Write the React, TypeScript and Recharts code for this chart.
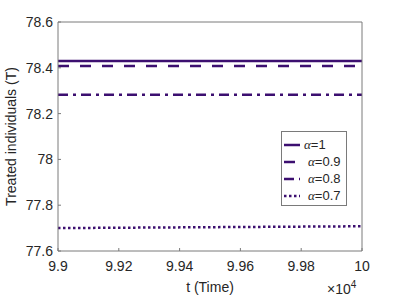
import { Label, Line, LineChart, XAxis, YAxis } from "recharts";

// Treated individuals T(t) near steady state for four fractional orders.
const times = [9.9, 9.925, 9.95, 9.975, 10];
const alpha1 = [78.43, 78.43, 78.43, 78.43, 78.43];
const alpha09 = [78.408, 78.408, 78.408, 78.408, 78.408];
const alpha08 = [78.282, 78.282, 78.282, 78.282, 78.282];
const alpha07 = [77.7, 77.702, 77.704, 77.706, 77.708];

const xTicks = [9.9, 9.92, 9.94, 9.96, 9.98, 10];
const yTicks = [77.6, 77.8, 78, 78.2, 78.4, 78.6];

const purple = "#3c0f70";
const axisGray = "#7a7a7a";
const font = "'Liberation Sans', Arial, sans-serif";

const series = [
  { key: "a1", label: "1", dash: undefined as string | undefined },
  { key: "a09", label: "0.9", dash: "11 11" },
  { key: "a08", label: "0.8", dash: "10 5 3 5" },
  { key: "a07", label: "0.7", dash: "2.5 2.5" },
];

const data = times.map((t, i) => ({
  t,
  a1: alpha1[i],
  a09: alpha09[i],
  a08: alpha08[i],
  a07: alpha07[i],
}));

function LegendBox() {
  return (
    <div
      style={{
        position: "absolute",
        left: 281,
        top: 131,
        width: 66,
        height: 75,
        boxSizing: "border-box",
        border: `1px solid ${axisGray}`,
        background: "#fff",
        padding: "4px 0 0 2px",
        fontFamily: font,
        fontSize: 13,
        color: "#262626",
      }}
    >
      {series.map((s) => (
        <div key={s.key} style={{ display: "flex", alignItems: "center", height: 17 }}>
          <svg width={18} height={6} style={{ marginRight: 2 }}>
            <line x1={0} y1={3} x2={16} y2={3} stroke={purple} strokeWidth={2.5} strokeDasharray={s.dash} />
          </svg>
          <span style={{ marginLeft: s.label === "1" ? 0 : 4 }}>
            <span style={{ fontFamily: "'Liberation Serif', serif", fontStyle: "italic" }}>α</span>={s.label}
          </span>
        </div>
      ))}
    </div>
  );
}

export default function App() {
  return (
    <div style={{ position: "absolute", left: 0, top: 0, width: 399, height: 299, background: "#fff" }}>
      <LineChart width={399} height={299} data={data} margin={{ top: 21, right: 36, bottom: 0, left: 0 }}>
        <XAxis
          dataKey="t"
          type="number"
          domain={[9.9, 10]}
          ticks={xTicks}
          allowDataOverflow
          height={48}
          tickSize={-3}
          tickMargin={13}
          stroke={axisGray}
          tick={{ fill: "#262626", fontSize: 14, fontFamily: font }}
          tickFormatter={(v: number) => String(+v.toFixed(2))}
        >
          <Label
            content={(p: any) => {
              const vb = p.viewBox || { x: 0, y: 0, width: 0 };
              return (
                <g fontFamily={font} fill="#262626">
                  <text x={vb.x + vb.width / 2} y={292} textAnchor="middle" fontSize={14}>
                    t (Time)
                  </text>
                  <text x={vb.x + vb.width - 35} y={294} fontSize={14}>
                    ×10
                    <tspan fontSize={10} dy={-6}>
                      4
                    </tspan>
                  </text>
                </g>
              );
            }}
          />
        </XAxis>
        <XAxis xAxisId="top" dataKey="t" type="number" domain={[9.9, 10]} ticks={xTicks} orientation="top" height={1} tickSize={-3} tick={false} stroke={axisGray} allowDataOverflow />
        <YAxis
          domain={[77.6, 78.6]}
          ticks={yTicks}
          width={58}
          tickSize={-3}
          tickMargin={8}
          stroke={axisGray}
          allowDataOverflow
          tick={{ fill: "#262626", fontSize: 14, fontFamily: font }}
          tickFormatter={(v: number) => String(+v.toFixed(1))}
        >
          <Label
            content={(p: any) => {
              const vb = p.viewBox || { x: 0, y: 0, height: 0 };
              const cy = vb.y + vb.height / 2;
              return (
                <text
                  x={16}
                  y={cy}
                  transform={`rotate(-90 16 ${cy})`}
                  textAnchor="middle"
                  fontFamily={font}
                  fontSize={14}
                  fill="#262626"
                >
                  Treated individuals (T)
                </text>
              );
            }}
          />
        </YAxis>
        <YAxis yAxisId="right" orientation="right" domain={[77.6, 78.6]} ticks={yTicks} width={1} tickSize={-3} tick={false} stroke={axisGray} allowDataOverflow />
        {series.map((s) => (
          <Line
            key={s.key}
            dataKey={s.key}
            type="linear"
            stroke={purple}
            strokeWidth={2.5}
            strokeDasharray={s.dash}
            dot={false}
            isAnimationActive={false}
          />
        ))}
      </LineChart>
      <LegendBox />
    </div>
  );
}
